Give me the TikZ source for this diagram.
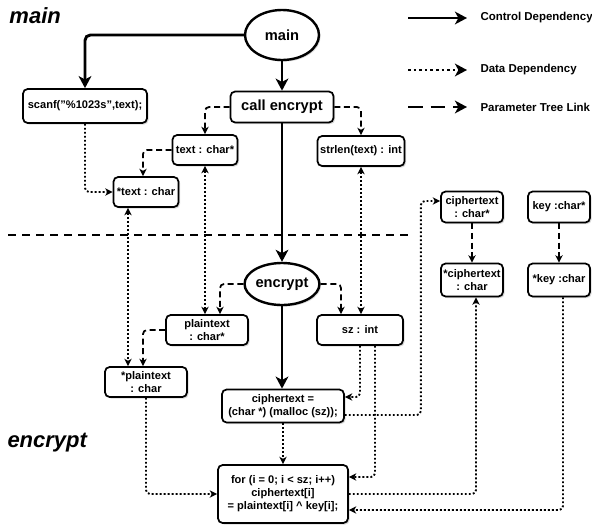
\documentclass[tikz,border=0pt]{standalone}
\usepackage{fontspec}
\setmainfont{Liberation Sans}
\usetikzlibrary{arrows.meta,shapes.geometric,calc,shadows}

\tikzset{every picture/.style={line width=0.75pt}}
\tikzset{
  boxshadow/.style={drop shadow={shadow xshift=1.2pt,shadow yshift=-1.2pt,opacity=0.3}},
  stmt/.style={draw, rounded corners=3.5pt, line width=1.3pt, fill=white, align=center,
    inner xsep=0pt, inner ysep=1pt, font=\bfseries\fontsize{8.3}{9.8}\selectfont, boxshadow},
  func/.style={draw, ellipse, line width=1.8pt, fill=white, inner sep=0pt,
    font=\bfseries\fontsize{11}{13}\selectfont, boxshadow},
  fntitle/.style={anchor=base west, inner sep=0pt, font=\bfseries\itshape\fontsize{16.5}{19}\selectfont},
  legtext/.style={anchor=west, inner sep=0pt, font=\bfseries\fontsize{8.6}{10}\selectfont},
  >={Stealth[length=5.5pt,width=5.5pt,inset=1.5pt]},
  bigtip/.style={-{Stealth[length=9pt,width=9.5pt,inset=2.5pt]}},
  ctrl/.style={line width=2.2pt, rounded corners=4pt, bigtip},
  data/.style={line width=1.4pt, dash pattern=on 1.4pt off 1.6pt, rounded corners=3pt, ->},
  param/.style={line width=1.3pt, dash pattern=on 4.5pt off 2.7pt, rounded corners=3pt, ->},
}

\begin{document}
\begin{tikzpicture}[x=0.75pt,y=0.75pt,yscale=-1,xscale=1]
\path[use as bounding box] (0,0) rectangle (592,529);

% Text Node
\node[fntitle] (tmain) at (9,23) {main};
% Text Node
\node[fntitle] (tenc) at (7,447) {encrypt};

%Shape: Ellipse
\node[func, minimum width=55.5pt, minimum height=37.5pt] (mainf) at (282,35) {main};
%Shape: Rounded Rect
\node[stmt, minimum width=93pt, minimum height=25.5pt] (scanf) at (85,106) {scanf("\%1023s",text);};
%Shape: Rounded Rect
\node[stmt, minimum width=77.25pt, minimum height=23.25pt, font=\bfseries\fontsize{11}{13}\selectfont] (callenc) at (282,107) {call encrypt};
%Shape: Rounded Rect
\node[stmt, minimum width=48.75pt, minimum height=22.5pt] (textp) at (205,150) {text : char*};
%Shape: Rounded Rect
\node[stmt, minimum width=65.25pt, minimum height=22.5pt] (strlen) at (361,151) {strlen(text) : int};
%Shape: Rounded Rect
\node[stmt, minimum width=48.75pt, minimum height=22.5pt] (textc) at (146,192) {*text : char};

%Shape: Ellipse
\node[func, minimum width=48.75pt, minimum height=31.5pt] (encf) at (282,284) {encrypt};
%Shape: Rounded Rect
\node[stmt, minimum width=61.5pt, minimum height=22.5pt] (plainp) at (207,330) {plaintext\\: char*};
%Shape: Rounded Rect
\node[stmt, minimum width=64.5pt, minimum height=22.5pt] (sz) at (360,330) {sz : int};
%Shape: Rounded Rect
\node[stmt, minimum width=61.5pt, minimum height=22.5pt] (plainc) at (146,382) {*plaintext\\: char};
%Shape: Rounded Rect
\node[stmt, minimum width=91.5pt, minimum height=24.75pt] (cx) at (283,406) {ciphertext =\\(char *) (malloc (sz));};
%Shape: Rounded Rect
\node[stmt, minimum width=97.5pt, minimum height=43.5pt] (forb) at (283,494) {for (i = 0; i < sz; i++)\\ciphertext[i]\\= plaintext[i] \textasciicircum{} key[i];};
%Shape: Rounded Rect
\node[stmt, minimum width=46.5pt, minimum height=23.25pt] (cptr) at (472,207) {ciphertext\\: char*};
%Shape: Rounded Rect
\node[stmt, minimum width=46.5pt, minimum height=24.75pt] (cchr) at (472,280) {*ciphertext\\: char};
%Shape: Rounded Rect
\node[stmt, minimum width=46.5pt, minimum height=23.25pt] (keyp) at (559,207) {key :char*};
%Shape: Rounded Rect
\node[stmt, minimum width=46.5pt, minimum height=24.75pt] (keyc) at (559,280) {*key :char};

%Straight Lines
\draw[line width=1.5pt, dash pattern=on 6pt off 4.5pt] (8,235) -- (410,235);

%Control lines
\draw[ctrl] (mainf.west) -| (scanf.north);
\draw[ctrl] (mainf.south) -- (callenc.north);
\draw[ctrl] (callenc.south) -- (encf.north);
\draw[ctrl] (encf.south) -- (encf.south |- cx.north);

%Parameter lines
\draw[param] (callenc.west) -| (textp.north);
\draw[param] (callenc.east) -| (strlen.north);
\draw[param] (textp.west) -| ($(textc.north)+(-3,0)$);
\draw[param] (encf.west) -| ($(plainp.north)+(13,0)$);
\draw[param] (encf.east) -| ($(sz.north)+(-19,0)$);
\draw[param] (plainp.west) -| ($(plainc.north)+(-3,0)$);
\draw[param] (cptr) -- (cchr);
\draw[param] (keyp) -- (keyc);

%Data lines
\draw[data] (scanf.south) |- (textc.west);
\draw[data,<->] ($(textc.south)+(-18,0)$) -- ($(plainc.north)+(-18,0)$);
\draw[data,<->] (textp.south) -- (textp.south |- plainp.north);
\draw[data,<->] (strlen.south) -- (strlen.south |- sz.north);
\draw[data] (sz.south) |- ($(cx.east)+(0,-9)$);
\draw[data] ($(sz.south)+(15,0)$) |- ($(forb.east)+(0,-17)$);
\draw[data] ($(cx.east)+(0,9)$) -- ++(76,0) |- ($(cptr.west)+(0,-6)$);
\draw[data] (forb.east) -| ($(cchr.south)+(4,0)$);
\draw[data] ($(keyc.south)+(4,0)$) |- ($(forb.east)+(0,16)$);
\draw[data] (plainc.south) |- (forb.west);
\draw[data] (cx.south) -- (cx.south |- forb.north);

%Legend
\coordinate (lg1) at (408,18);
\coordinate (lg2) at (408,70);
\coordinate (lg3) at (408,107);
% Text Node
\node[legtext] (lgctrl) at (480,18) {Control Dependency};
% Text Node
\node[legtext] (lgdata) at (480,70) {Data Dependency};
% Text Node
\node[legtext] (lgparam) at (480,107) {Parameter Tree Link};
\draw[ctrl] (lg1) -- ($(lgctrl.west)+(-13,0)$);
\draw[line width=2.2pt, dash pattern=on 2pt off 2.2pt, bigtip] (lg2) -- ($(lgdata.west)+(-13,0)$);
\draw[line width=2.2pt, dash pattern=on 11pt off 6pt, bigtip] (lg3) -- ($(lgparam.west)+(-13,0)$);

\end{tikzpicture}
\end{document}
